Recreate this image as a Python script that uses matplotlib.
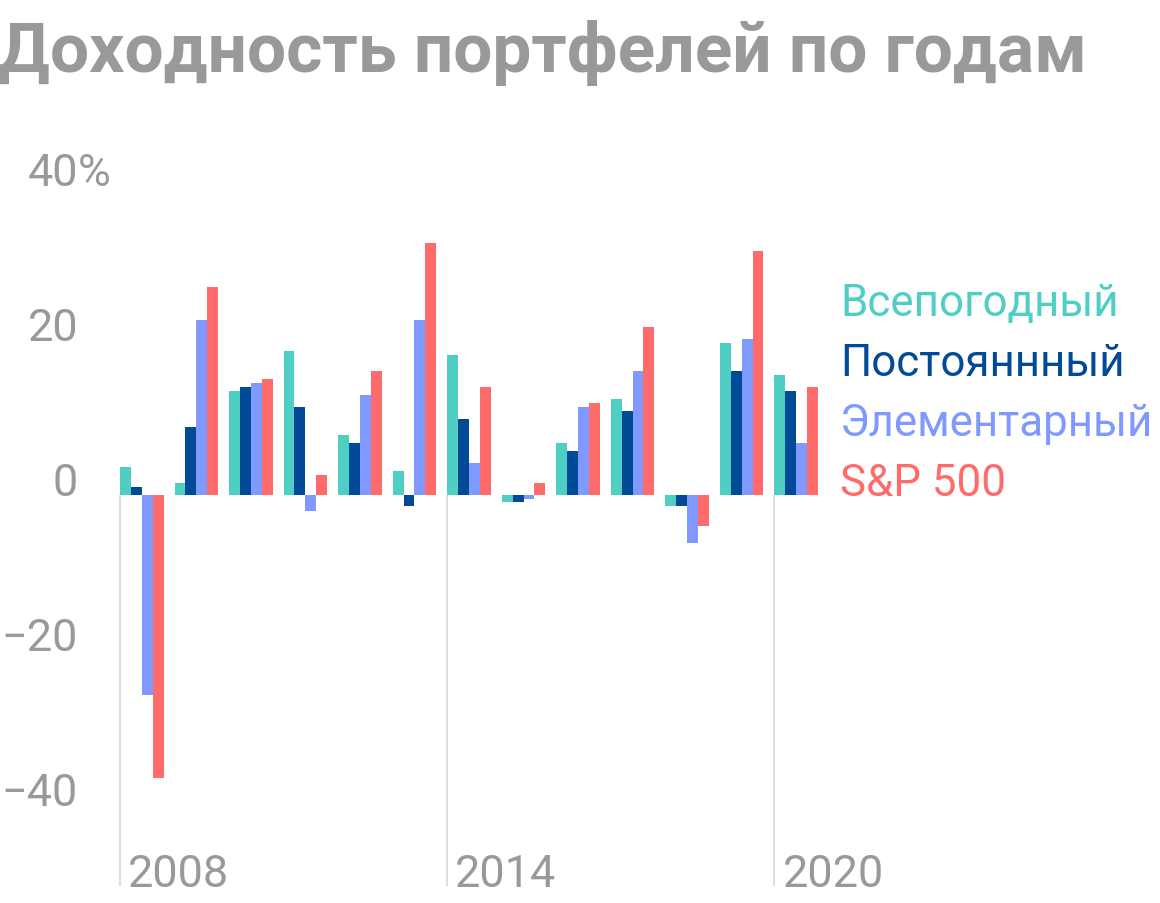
import numpy as np
import matplotlib.pyplot as plt

# ---- data ----
years = list(range(2008, 2021))
allweather = [3.6, 1.5, 13.4, 18.5, 7.7, 3.1, 18.0, -1.0, 6.7, 12.4, -1.5, 19.6, 15.4]
permanent = [1.0, 8.7, 13.9, 11.3, 6.7, -1.5, 9.8, -1.0, 5.6, 10.8, -1.5, 16.0, 13.4]
elementary = [-25.8, 22.6, 14.4, -2.1, 12.9, 22.6, 4.1, -0.5, 11.3, 16.0, -6.2, 20.1, 6.7]
sp500 = [-36.6, 26.8, 14.9, 2.5, 16.0, 32.5, 13.9, 1.5, 11.8, 21.6, -4.1, 31.4, 13.9]

names = ["Всепогодный", "Постояннный", "Элементарный", "S&P 500"]
colors = ["#4fcfc4", "#004a98", "#7f99ff", "#ff6b6b"]
yticks = [40, 20, 0, -20, -40]
year_labels = [2008, 2014, 2020]

GRAY = "#999999"
plt.rcParams['font.family'] = ['Roboto', 'DejaVu Sans']

W, H = 1160, 904
fig = plt.figure(figsize=(W / 100, H / 100), dpi=100)
ax = fig.add_axes([0, 0, 1, 1])

# pixel geometry of the reference: x0 = left of first bar, y0 = zero line
x0, px_year = 120, 54.53
y0, px_unit = 495.7, 7.75
ax.set_xlim((0 - x0) / px_year, (W - x0) / px_year)
ax.set_ylim((y0 - H) / px_unit, y0 / px_unit)
ax.axis("off")

idx = np.arange(len(years))
bw = 0.2
for k, (vals, c) in enumerate(zip([allweather, permanent, elementary, sp500], colors)):
    ax.bar(idx + k * bw, vals, width=bw, align="edge", color=c, linewidth=0, zorder=3)

# year markers
bottom = (y0 - 887) / px_unit
for y in year_labels:
    i = years.index(y)
    ax.vlines(i, bottom, 0, color="#dddddd", linewidth=1.5, zorder=1)
    ax.text(i + 0.15, bottom, str(y), fontsize=32.4, color=GRAY,
            ha="left", va="baseline")

# y tick labels
xr = (78 - x0) / px_year
for t in yticks:
    lab = str(t).replace("-", "\u2212")
    ax.text(xr, t, lab, fontsize=32.4, color=GRAY, ha="right", va="baseline")
    if t == 40:
        ax.text(xr, t, "%", fontsize=32.4, color=GRAY, ha="left", va="baseline")

# legend as coloured text
xl = (840 - x0) / px_year
for j, (n, c) in enumerate(zip(names, colors)):
    ax.text(xl, (3 - j) * 60 / px_unit, n, fontsize=31.6, color=c,
            ha="left", va="baseline")

fig.text(-0.002, 1 - 71.7 / H, "Доходность портфелей по годам", fontsize=50,
         fontweight="bold", color=GRAY, ha="left", va="baseline")

fig.savefig("out.png", dpi=100)
